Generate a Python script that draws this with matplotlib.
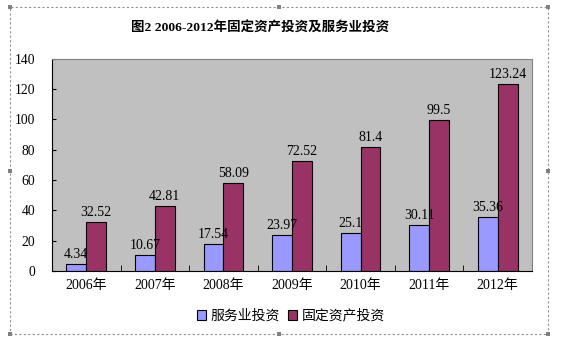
import matplotlib
matplotlib.use("Agg")
import matplotlib.pyplot as plt
from matplotlib.patches import Rectangle
import numpy as np

plt.rcParams['font.family'] = ['Liberation Serif', 'Noto Sans CJK SC', 'DejaVu Sans']

categories = ['2006年', '2007年', '2008年', '2009年', '2010年', '2011年', '2012年']
service = [4.34, 10.67, 17.54, 23.97, 25.1, 30.11, 35.36]
fixed = [32.52, 42.81, 58.09, 72.52, 81.4, 99.5, 123.24]
service_labels = ['4.34', '10.67', '17.54', '23.97', '25.1', '30.11', '35.36']
fixed_labels = ['32.52', '42.81', '58.09', '72.52', '81.4', '99.5', '123.24']
yticks = [0, 20, 40, 60, 80, 100, 120, 140]

fig = plt.figure(figsize=(5.61, 3.41), dpi=100)
fig.patch.set_facecolor('white')
ax = fig.add_axes([52/561, 1-271/341, 480/561, (271-58.5)/341])
ax.set_facecolor('#C0C0C0')

x = np.arange(len(categories))
w = 0.29
b1 = ax.bar(x - w/2, service, w, color='#9999FF', edgecolor='black', linewidth=0.8, label='服务业投资')
b2 = ax.bar(x + w/2, fixed, w, color='#993366', edgecolor='black', linewidth=0.8, label='固定资产投资')

for xi, v, s in zip(x, service, service_labels):
    ax.text(xi - w/2, v + 2, s, ha='center', va='bottom', fontsize=10)
for xi, v, s in zip(x, fixed, fixed_labels):
    ax.text(xi + w/2, v + 2, s, ha='center', va='bottom', fontsize=10)

ax.set_xlim(-0.5, len(categories) - 0.5)
ax.set_ylim(0, 140)
ax.set_yticks(yticks)
ax.set_yticklabels([str(t) for t in yticks], fontsize=9.8)
ax.set_xticks(x)
ax.set_xticklabels(categories, fontsize=10)
ax.tick_params(axis='x', length=0, pad=6)
ax.set_xticks(np.arange(-0.5, len(categories)), minor=True)
ax.tick_params(axis='x', which='minor', direction='in', length=4)
ax.tick_params(axis='y', direction='in', length=3, pad=12)
for side in ['top', 'right']:
    ax.spines[side].set_color('#808080')
for side in ['left', 'bottom']:
    ax.spines[side].set_color('black')

fig.text(260/561, 1-28/341, '图2 2006-2012年固定资产投资及服务业投资', ha='center', va='center',
         fontsize=9.7, fontweight='bold')

leg = fig.legend(handles=[b1, b2], loc='center', bbox_to_anchor=(291/561, 1-316/341), ncol=2,
                 frameon=False, fontsize=10, handlelength=0.65, handleheight=0.65,
                 handletextpad=0.3, columnspacing=0.6)

# dashed chart border with handles
x0, y0, x1, y1 = 10, 7, 548, 334
fig.patches.append(Rectangle((x0/561, 1-y1/341), (x1-x0)/561, (y1-y0)/341, transform=fig.transFigure,
                             fill=False, edgecolor='#909090', linestyle=(0, (2, 2)), linewidth=0.8))
hs = 4
for hx in [x0, (x0+x1)/2, x1]:
    for hy in [y0, (y0+y1)/2, y1]:
        if hx == (x0+x1)/2 and hy == (y0+y1)/2:
            continue
        fig.patches.append(Rectangle(((hx-hs/2)/561, 1-(hy+hs/2)/341), hs/561, hs/341,
                                     transform=fig.transFigure, facecolor='#808080', edgecolor='none'))

fig.savefig('out.png', dpi=100)
